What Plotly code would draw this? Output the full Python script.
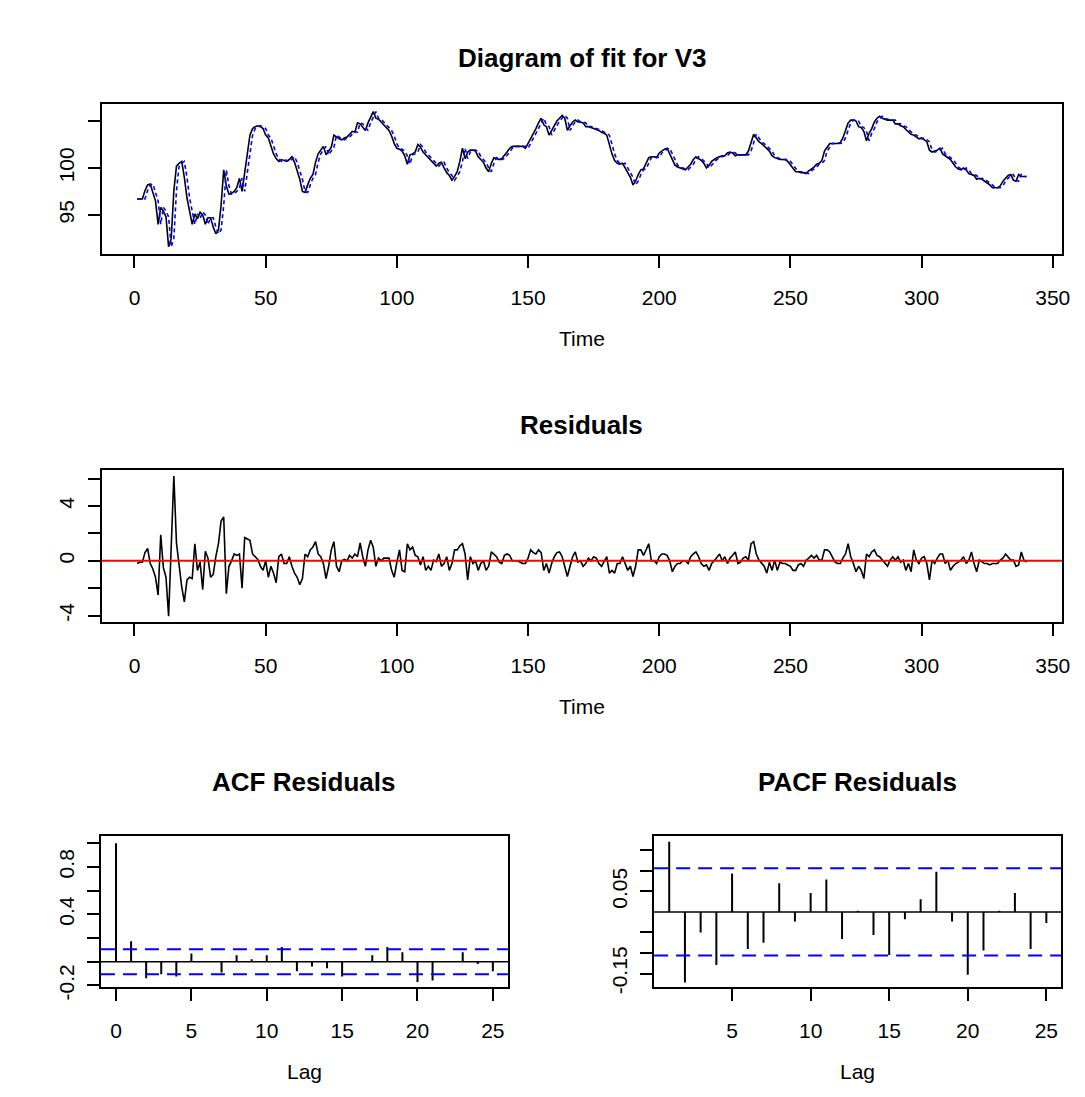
import math
import plotly.graph_objects as go

# ---------------- data ----------------
time = list(range(1, 341))

v3 = [
    96.7, 96.7, 96.7, 97.6, 98.2, 98.3, 97.5, 96.5, 94.0, 95.8,
    95.4, 94.8, 91.6, 92.5, 97.6, 100.2, 100.5, 100.7, 99.0, 96.8,
    95.4, 94.0, 95.1, 94.6, 95.3, 95.0, 94.0, 94.7, 94.7, 93.7,
    93.0, 93.4, 96.0, 99.8, 98.1, 97.2, 97.3, 97.5, 97.9, 98.9,
    97.5, 99.5, 101.4, 103.5, 104.2, 104.4, 104.5, 104.4, 104.2, 103.5,
    103.2, 102.3, 101.5, 101.0, 100.7, 100.9, 100.8, 100.7, 100.9, 101.2,
    100.6, 99.8, 98.8, 97.5, 97.4, 98.2, 98.9, 99.3, 100.6, 101.5,
    101.9, 102.3, 101.4, 101.8, 102.2, 103.5, 103.3, 103.1, 103.0, 103.2,
    103.3, 103.6, 103.9, 103.8, 104.8, 104.7, 104.3, 104.0, 104.8, 105.4,
    106.0, 105.3, 105.2, 104.9, 104.6, 104.3, 104.0, 103.4, 102.6, 102.1,
    102.0, 101.8, 101.3, 100.4, 101.4, 101.5, 101.7, 102.5, 102.2, 101.7,
    101.4, 101.1, 100.8, 100.5, 100.2, 100.5, 100.6, 100.0, 99.5, 99.2,
    98.7, 99.1, 99.6, 100.7, 102.1, 101.0, 101.7, 101.9, 101.9, 101.8,
    101.2, 100.9, 100.6, 100.0, 99.6, 100.5, 101.1, 101.0, 100.9, 101.0,
    101.3, 101.7, 102.1, 102.3, 102.3, 102.3, 102.3, 102.3, 102.1, 102.6,
    103.1, 103.6, 104.2, 104.8, 105.3, 104.6, 104.4, 103.5, 104.0, 104.5,
    105.0, 105.3, 105.6, 105.3, 104.0, 104.5, 104.9, 105.1, 104.9, 104.9,
    104.8, 104.4, 104.4, 104.3, 104.2, 104.1, 104.0, 103.8, 103.7, 103.5,
    102.5, 101.5, 100.8, 100.5, 100.4, 100.5, 100.0, 99.5, 99.0, 98.2,
    98.6, 99.3, 99.8, 99.9, 100.6, 101.1, 101.2, 101.2, 101.1, 101.6,
    101.8, 102.0, 102.1, 101.5, 100.9, 100.3, 100.1, 100.0, 99.9, 99.8,
    100.1, 100.4, 100.9, 101.2, 101.0, 100.8, 100.5, 100.0, 100.3, 100.7,
    100.9, 101.1, 101.2, 101.3, 101.3, 101.6, 101.7, 101.6, 101.3, 101.4,
    101.4, 101.4, 101.4, 101.8, 102.8, 103.6, 103.2, 102.8, 102.6, 102.3,
    102.0, 101.8, 101.3, 101.1, 101.0, 100.9, 100.9, 100.9, 100.7, 100.3,
    100.0, 99.6, 99.6, 99.5, 99.5, 99.4, 99.7, 99.9, 100.1, 100.4,
    100.5, 100.8, 101.8, 102.2, 102.6, 102.6, 102.6, 102.6, 102.7, 103.2,
    104.0, 104.8, 105.1, 105.1, 105.0, 104.4, 104.3, 103.9, 102.9, 103.7,
    104.2, 104.9, 105.3, 105.5, 105.3, 105.2, 105.1, 105.1, 105.1, 104.7,
    104.7, 104.5, 104.4, 104.1, 103.8, 103.6, 103.5, 103.3, 103.1, 103.2,
    103.0, 102.8, 101.9, 101.7, 101.8, 101.9, 102.1, 101.5, 101.3, 101.1,
    100.9, 100.5, 100.1, 99.9, 99.8, 100.0, 99.8, 99.4, 99.3, 99.2,
    98.8, 98.9, 98.8, 98.6, 98.4, 98.2, 97.9, 97.9, 97.9, 98.1,
    98.6, 98.9, 99.2, 99.3, 98.7, 98.6, 99.3, 99.1, 99.1, 99.1,
]

fitted = [
    96.7, 96.7, 96.7, 96.7, 97.6, 98.2, 98.3, 97.5, 96.5, 94.0,
    95.8, 95.4, 94.8, 91.6, 92.5, 97.6, 100.2, 100.5, 100.7, 99.0,
    96.8, 95.4, 94.0, 95.1, 94.6, 95.3, 95.0, 94.0, 94.7, 94.7,
    93.7, 93.0, 93.4, 96.0, 99.8, 98.1, 97.2, 97.3, 97.5, 97.9,
    98.9, 97.5, 99.5, 101.4, 103.5, 104.2, 104.4, 104.5, 104.4, 104.2,
    103.5, 103.2, 102.3, 101.5, 101.0, 100.7, 100.9, 100.8, 100.7, 100.9,
    101.2, 100.6, 99.8, 98.8, 97.5, 97.4, 98.2, 98.9, 99.3, 100.6,
    101.5, 101.9, 102.3, 101.4, 101.8, 102.2, 103.5, 103.3, 103.1, 103.0,
    103.2, 103.3, 103.6, 103.9, 103.8, 104.8, 104.7, 104.3, 104.0, 104.8,
    105.4, 106.0, 105.3, 105.2, 104.9, 104.6, 104.3, 104.0, 103.4, 102.6,
    102.1, 102.0, 101.8, 101.3, 100.4, 101.4, 101.5, 101.7, 102.5, 102.2,
    101.7, 101.4, 101.1, 100.8, 100.5, 100.2, 100.5, 100.6, 100.0, 99.5,
    99.2, 98.7, 99.1, 99.6, 100.7, 102.1, 101.0, 101.7, 101.9, 101.9,
    101.8, 101.2, 100.9, 100.6, 100.0, 99.6, 100.5, 101.1, 101.0, 100.9,
    101.0, 101.3, 101.7, 102.1, 102.3, 102.3, 102.3, 102.3, 102.3, 102.1,
    102.6, 103.1, 103.6, 104.2, 104.8, 105.3, 104.6, 104.4, 103.5, 104.0,
    104.5, 105.0, 105.3, 105.6, 105.3, 104.0, 104.5, 104.9, 105.1, 104.9,
    104.9, 104.8, 104.4, 104.4, 104.3, 104.2, 104.1, 104.0, 103.8, 103.7,
    103.5, 102.5, 101.5, 100.8, 100.5, 100.4, 100.5, 100.0, 99.5, 99.0,
    98.2, 98.6, 99.3, 99.8, 99.9, 100.6, 101.1, 101.2, 101.2, 101.1,
    101.6, 101.8, 102.0, 102.1, 101.5, 100.9, 100.3, 100.1, 100.0, 99.9,
    99.8, 100.1, 100.4, 100.9, 101.2, 101.0, 100.8, 100.5, 100.0, 100.3,
    100.7, 100.9, 101.1, 101.2, 101.3, 101.3, 101.6, 101.7, 101.6, 101.3,
    101.4, 101.4, 101.4, 101.4, 101.8, 102.8, 103.6, 103.2, 102.8, 102.6,
    102.3, 102.0, 101.8, 101.3, 101.1, 101.0, 100.9, 100.9, 100.9, 100.7,
    100.3, 100.0, 99.6, 99.6, 99.5, 99.5, 99.4, 99.7, 99.9, 100.1,
    100.4, 100.5, 100.8, 101.8, 102.2, 102.6, 102.6, 102.6, 102.6, 102.7,
    103.2, 104.0, 104.8, 105.1, 105.1, 105.0, 104.4, 104.3, 103.9, 102.9,
    103.7, 104.2, 104.9, 105.3, 105.5, 105.3, 105.2, 105.1, 105.1, 105.1,
    104.7, 104.7, 104.5, 104.4, 104.1, 103.8, 103.6, 103.5, 103.3, 103.1,
    103.2, 103.0, 102.8, 101.9, 101.7, 101.8, 101.9, 102.1, 101.5, 101.3,
    101.1, 100.9, 100.5, 100.1, 99.9, 99.8, 100.0, 99.8, 99.4, 99.3,
    99.2, 98.8, 98.9, 98.8, 98.6, 98.4, 98.2, 97.9, 97.9, 97.9,
    98.1, 98.6, 98.9, 99.2, 99.3, 98.7, 98.6, 99.3, 99.1, 99.1,
]

residuals = [
    -0.2, -0.1, -0.1, 0.6, 0.9, -0.2, -0.6, -1.2, -2.5, 1.9,
    -0.5, -1.2, -4.05, 1.2, 6.2, 1.3, -0.3, -1.9, -3.0, -1.4,
    -1.2, -1.3, 1.25, -0.7, -0.1, -2.1, 0.7, 0.2, -1.2, -1.0,
    0.3, 1.25, 2.9, 3.2, -2.4, -0.4, 0.0, 0.5, 0.4, 0.5,
    -2.0, 1.7, 1.6, 1.5, 0.5, 0.3, 0.1, -0.4, -0.7, 0.0,
    -1.2, -0.4, -0.9, -1.6, 0.3, 0.5, -0.2, -0.2, 0.3, -0.4,
    -0.9, -1.2, -1.75, -1.3, 0.5, 0.3, 0.8, 1.0, 1.4, 0.5,
    0.3, -0.2, -1.3, -0.4, 0.8, 1.4, -0.4, -0.8, 0.0, 0.1,
    0.0, 0.4, 0.2, 0.5, 0.3, 1.3, 0.3, -0.4, 0.8, 1.5,
    1.0, -0.4, 0.2, 0.0, 0.2, 0.2, 0.2, -0.7, -1.2, -0.1,
    0.8, -0.7, -0.8, 1.25, 0.8, 1.0, 0.4, 0.3, -0.3, 0.3,
    -0.7, -0.4, -0.7, 0.05, -0.05, 0.5, -0.4, -0.2, 0.3, -0.7,
    -0.2, 0.8, 0.8, 1.1, 1.25, 0.5, -1.4, 0.3, -0.2, 0.0,
    -0.7, -0.2, 0.0, -0.7, -0.4, 0.65, 0.5, 0.3, -0.1, -0.2,
    0.4, 0.5, 0.4, 0.0, 0.0, 0.0, -0.1, -0.2, -0.2, 0.2,
    0.8, 0.6, 0.5, 0.8, 0.6, -0.7, -0.2, -0.9, -0.2, 0.3,
    0.6, 0.65, 0.3, -0.4, -1.15, -0.4, 0.3, 0.65, -0.1, 0.0,
    -0.4, -0.2, 0.2, 0.0, 0.3, 0.2, -0.2, -0.4, 0.0, 0.3,
    -0.9, -0.7, -0.9, -0.2, -0.2, 0.3, -0.2, -0.7, -0.4, -1.15,
    -0.4, 0.8, 0.8, 0.4, 0.8, 1.25, 0.0, 0.0, -0.2, 0.3,
    0.5, 0.5, 0.4, 0.0, -0.8, -0.4, -0.2, -0.2, 0.0, 0.0,
    -0.2, 0.3, 0.5, 0.65, 0.3, -0.2, -0.4, -0.3, -0.7, -0.2,
    0.0, 0.3, 0.5, 0.0, 0.3, -0.2, 0.2, 0.4, 0.65, -0.2,
    -0.1, 0.2, 0.3, 0.05, 1.25, 1.4, 0.5, 0.05, -0.2, -0.4,
    -0.9, -0.1, -0.7, 0.05, -0.7, -0.1, -0.2, -0.2, -0.3, -0.4,
    -0.7, -0.7, -0.3, -0.2, -0.4, 0.05, 0.2, 0.4, 0.2, 0.4,
    0.05, 0.05, 0.8, 0.8, 0.65, 0.3, -0.1, -0.2, -0.2, 0.2,
    0.5, 1.25, 0.3, -0.2, -0.8, -0.4, -0.7, -1.3, 0.5, 0.3,
    0.65, 0.8, 0.4, 0.3, 0.05, -0.2, -0.4, 0.05, 0.3, 0.05,
    0.3, -0.1, 0.05, -0.7, -0.2, -0.8, 0.8, 0.05, -0.2, 0.2,
    0.3, -0.2, -1.4, 0.05, -0.2, 0.2, 0.5, 0.5, -0.2, 0.05,
    -0.7, -0.4, -0.2, -0.1, 0.05, 0.3, -0.2, 0.05, 0.65, -0.2,
    -0.8, 0.05, -0.1, -0.2, -0.2, -0.3, -0.2, -0.2, -0.2, 0.05,
    0.2, 0.5, 0.3, 0.05, 0.05, -0.4, -0.3, 0.65, 0.05, -0.1,
]

acf_lags = list(range(0, 26))
acf_vals = [1.0, 0.172, -0.139, -0.105, -0.125, 0.07, 0.004, -0.09, 0.055, 0.02,
            0.055, 0.125, -0.08, -0.04, -0.055, -0.125, 0.004, 0.055, 0.125, 0.08,
            -0.172, -0.158, 0.004, 0.08, -0.02, -0.08]

pacf_lags = list(range(1, 26))
pacf_vals = [0.171, -0.172, -0.05, -0.129, 0.094, -0.090, -0.075, 0.070, -0.023, 0.046,
             0.079, -0.066, 0.003, -0.056, -0.105, -0.018, 0.031, 0.098, -0.023, -0.153,
             -0.094, 0.003, 0.046, -0.090, -0.027]

n_obs = 340
ci = 1.96 / math.sqrt(n_obs)

top_xticks = [0, 50, 100, 150, 200, 250, 300, 350]
top_yticks = [95, 100, 105]
top_ytext = ["95", "100", ""]
res_yticks = [-4, -2, 0, 2, 4, 6]
res_ytext = ["-4", "", "0", "", "4", ""]
acf_xticks = [0, 5, 10, 15, 20, 25]
acf_yticks = [-0.2, 0.0, 0.2, 0.4, 0.6, 0.8, 1.0]
acf_ytext = ["-0.2", "", "", "0.4", "", "0.8", ""]
pacf_xticks = [5, 10, 15, 20, 25]
pacf_yticks = [-0.15, -0.10, -0.05, 0.05, 0.10, 0.15]
pacf_ytext = ["-0.15", "", "", "0.05", "", ""]

# ---------------- layout geometry (pixels) ----------------
W, H = 1085, 1097
FONT = "Liberation Sans, Arial, Helvetica, sans-serif"


def dx(l, r):
    return [l / W, r / W]


def dy(t, b):
    return [1 - b / H, 1 - t / H]


boxes = {
    "top": (102.3, 1070, 105, 257.3),
    "res": (102.3, 1070, 476, 629.3),
    "acf": (101.7, 511.7, 846, 999.3),
    "pacf": (659, 1069.3, 846.5, 999.3),
}


def stems(lags, vals):
    xs, ys = [], []
    for lg, v in zip(lags, vals):
        xs += [lg, lg, None]
        ys += [0, v, None]
    return xs, ys


fig = go.Figure()

fig.add_trace(go.Scatter(x=time, y=v3, mode="lines", line=dict(color="black", width=1.6),
                         xaxis="x", yaxis="y", showlegend=False, hoverinfo="skip"))
fig.add_trace(go.Scatter(x=time, y=fitted, mode="lines",
                         line=dict(color="blue", width=1.6, dash="4px,3px"),
                         xaxis="x", yaxis="y", showlegend=False, hoverinfo="skip"))
fig.add_trace(go.Scatter(x=time, y=residuals, mode="lines", line=dict(color="black", width=1.6),
                         xaxis="x2", yaxis="y2", showlegend=False, hoverinfo="skip"))
ax, ay = stems(acf_lags, acf_vals)
fig.add_trace(go.Scatter(x=ax, y=ay, mode="lines", line=dict(color="black", width=2),
                         xaxis="x3", yaxis="y3", showlegend=False, hoverinfo="skip"))
px_, py_ = stems(pacf_lags, pacf_vals)
fig.add_trace(go.Scatter(x=px_, y=py_, mode="lines", line=dict(color="black", width=2),
                         xaxis="x4", yaxis="y4", showlegend=False, hoverinfo="skip"))

shapes = []
shapes.append(dict(type="line", xref="x2 domain", yref="y2", x0=0, x1=1, y0=0, y1=0,
                   line=dict(color="red", width=2)))
for xa, ya in (("x3", "y3"), ("x4", "y4")):
    shapes.append(dict(type="line", xref=xa + " domain", yref=ya, x0=0, x1=1, y0=0, y1=0,
                       line=dict(color="black", width=1.5)))
    for c in (ci, -ci):
        shapes.append(dict(type="line", xref=xa + " domain", yref=ya, x0=0, x1=1, y0=c, y1=c,
                           line=dict(color="blue", width=2, dash="14px,8px")))


def axis_common():
    return dict(showline=True, linecolor="black", linewidth=1.5, mirror=True,
                ticks="outside", ticklen=12, tickwidth=1.5, tickcolor="black",
                showgrid=False, zeroline=False,
                tickfont=dict(family=FONT, size=21, color="black"))


def xaxis(box, rng, ticks, anchor):
    l, r, t, b = boxes[box]
    a = axis_common()
    a.update(domain=dx(l, r), range=rng, tickmode="array", tickvals=ticks,
             ticktext=[str(v) for v in ticks], anchor=anchor, ticklabelstandoff=12)
    return a


def yaxis(box, rng, ticks, text, anchor):
    l, r, t, b = boxes[box]
    a = axis_common()
    a.update(domain=dy(t, b), range=rng, tickmode="array", tickvals=ticks,
             ticktext=text, anchor=anchor, tickangle=-90, ticklabelstandoff=5)
    return a


fig.update_layout(
    width=W, height=H, margin=dict(l=0, r=0, t=0, b=0),
    paper_bgcolor="white", plot_bgcolor="white", showlegend=False,
    xaxis=xaxis("top", [-12.56, 353.56], top_xticks, "y"),
    yaxis=yaxis("top", [90.81, 106.84], top_yticks, top_ytext, "x"),
    xaxis2=xaxis("res", [-12.56, 353.56], top_xticks, "y2"),
    yaxis2=yaxis("res", [-4.46, 6.61], res_yticks, res_ytext, "x2"),
    xaxis3=xaxis("acf", [-1, 26], acf_xticks, "y3"),
    yaxis3=yaxis("acf", [-0.217, 1.061], acf_yticks, acf_ytext, "x3"),
    xaxis4=xaxis("pacf", [0.04, 25.96], pacf_xticks, "y4"),
    yaxis4=yaxis("pacf", [-0.184, 0.184], pacf_yticks, pacf_ytext, "x4"),
    shapes=shapes,
)

labels = [
    ("<b>Diagram of fit for V3</b>", 586, 59, 26),
    ("<b>Residuals</b>", 586, 430, 26),
    ("<b>ACF Residuals</b>", 306.7, 791, 26),
    ("<b>PACF Residuals</b>", 864, 791, 26),
    ("Time", 586, 343, 21),
    ("Time", 586, 715, 21),
    ("Lag", 306.7, 1084.7, 21),
    ("Lag", 864, 1084.7, 21),
]
for txt, cx, cy, sz in labels:
    fig.add_annotation(text=txt, x=cx / W, y=1 - cy / H, xref="paper", yref="paper",
                       xanchor="center", yanchor="middle", showarrow=False,
                       font=dict(family=FONT, size=sz, color="black"))

# fill the actual browser viewport exactly, without page margins
post = ("document.documentElement.style.margin='0';"
        "document.documentElement.style.overflow='hidden';"
        "document.body.style.margin='0';document.body.style.padding='0';"
        "document.body.style.overflow='hidden';"
        "var d=document.getElementById('{plot_id}');"
        "d.style.position='fixed';d.style.left='0px';d.style.top='0px';"
        "var vw=document.documentElement.clientWidth||window.innerWidth;"
        "var vh=document.documentElement.clientHeight||window.innerHeight;"
        "if(vw>0&&vh>0&&(vw!==%d||vh!==%d)){d.style.width=vw+'px';d.style.height=vh+'px';"
        "Plotly.relayout(d,{width:vw,height:vh});}" % (W, H))

fig.write_html("out.html", config={"displayModeBar": False}, post_script=post)
